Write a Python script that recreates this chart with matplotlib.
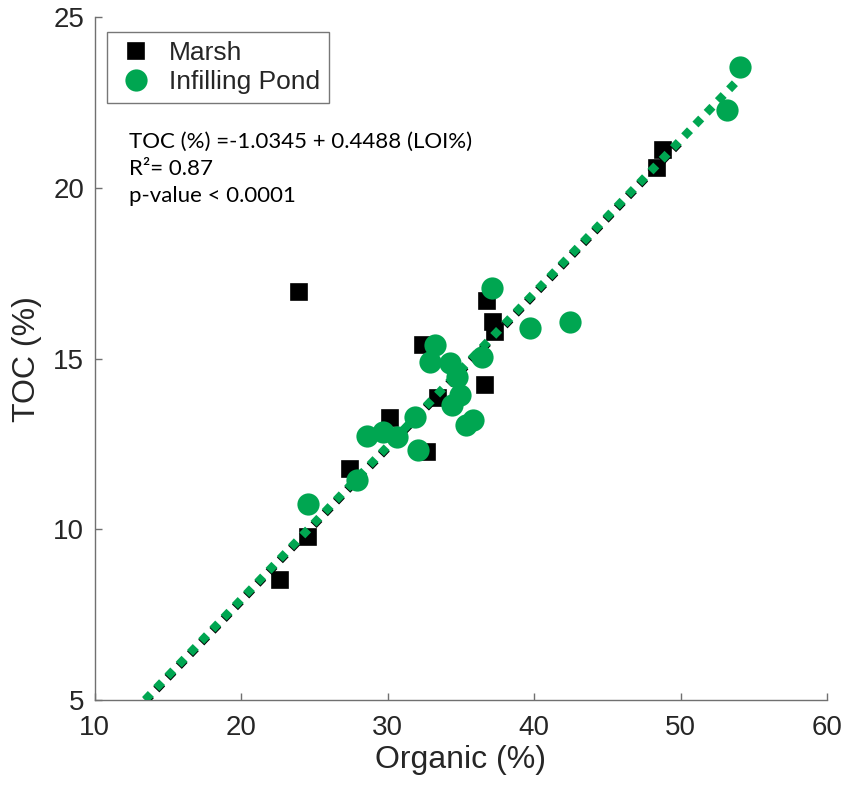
import matplotlib
matplotlib.use("Agg")
import matplotlib.pyplot as plt
import numpy as np

# Sample measurements: loss-on-ignition organic content vs total organic carbon
marsh_organic = [22.66, 24.57, 23.96, 27.44, 30.17, 32.70, 32.39, 33.45, 36.66,
                 36.77, 37.20, 37.34, 48.38, 48.83]
marsh_toc = [8.52, 9.78, 16.95, 11.77, 13.26, 12.28, 15.39, 13.85, 14.23,
             16.69, 16.08, 15.78, 20.58, 21.11]

pond_organic = [24.57, 27.90, 28.58, 29.71, 30.63, 31.88, 32.10, 33.24, 32.90,
                34.26, 34.72, 34.95, 34.38, 35.34, 35.86, 36.43, 37.11, 39.73,
                42.46, 53.15, 54.06]
pond_toc = [10.74, 11.45, 12.74, 12.86, 12.71, 13.30, 12.32, 15.40, 14.91,
            14.86, 14.47, 13.94, 13.64, 13.06, 13.20, 15.06, 17.06, 15.89,
            16.08, 22.29, 23.56]

# Regression lines (intercept, slope) and their x-ranges
fit_all = (-1.0345, 0.4488)
fit_all_range = (13.45, 54.0)
fit_marsh = (-1.075, 0.4488)
fit_marsh_range = (13.5, 50.0)

legend_labels = ["Marsh", "Infilling Pond"]
stats_lines = ["TOC (%) =-1.0345 + 0.4488 (LOI%)", "R\u00b2= 0.87", "p-value < 0.0001"]

x_ticks = [10, 20, 30, 40, 50, 60]
y_ticks = [5, 10, 15, 20, 25]

GREEN = "#00a651"
AXCOL = "#707070"
TXTCOL = "#262626"
SANS = ["Liberation Sans", "DejaVu Sans"]

fig = plt.figure(figsize=(8.5, 7.88), dpi=100)
ax = fig.add_axes([0.1112, 0.1117, 0.8618, 0.8662])

sq, = ax.plot(marsh_organic, marsh_toc, linestyle="none", marker="s", markersize=12,
              color="black", markeredgecolor="black", markeredgewidth=1.2, zorder=2,
              label=legend_labels[0])

xs = np.array(fit_marsh_range)
ax.plot(xs, fit_marsh[0] + fit_marsh[1] * xs, color="black", linewidth=6,
        linestyle=(0.12, (1, 0.95)), dash_capstyle="butt", zorder=3)
xs = np.array(fit_all_range)
ax.plot(xs, fit_all[0] + fit_all[1] * xs, color=GREEN, linewidth=6,
        linestyle=(0, (1, 0.95)), dash_capstyle="butt", zorder=4)

ci, = ax.plot(pond_organic, pond_toc, linestyle="none", marker="o", markersize=16,
              color=GREEN, markeredgewidth=0, zorder=5, label=legend_labels[1])

ax.set_xlim(10, 60)
ax.set_ylim(5, 25)
ax.set_xticks(x_ticks)
ax.set_yticks(y_ticks)
ax.set_xticklabels([str(v) for v in x_ticks], family=SANS, fontsize=20, color=TXTCOL)
ax.set_yticklabels([str(v) for v in y_ticks], family=SANS, fontsize=20, color=TXTCOL)
ax.tick_params(direction="in", length=5, width=1, color=AXCOL)
ax.tick_params(axis="x", pad=11)
ax.tick_params(axis="y", pad=7.5)
for side in ("top", "right"):
    ax.spines[side].set_visible(False)
for side in ("left", "bottom"):
    ax.spines[side].set_color(AXCOL)
    ax.spines[side].set_linewidth(1)

ax.set_xlabel("Organic (%)", family=SANS, fontsize=23, color=TXTCOL, labelpad=3)
ax.set_ylabel("TOC (%)", family=SANS, fontsize=23, color=TXTCOL, labelpad=8)

leg = ax.legend(handles=[sq, ci], loc="upper left", bbox_to_anchor=(0.017, 0.979),
                borderaxespad=0, prop={"family": SANS, "size": 19},
                fancybox=False, frameon=True, handlelength=1.5,
                handletextpad=0.5, borderpad=0.35, labelspacing=0.2,
                markerscale=1.0)
leg.get_frame().set_edgecolor("#555555")
leg.get_frame().set_linewidth(1)
for t in leg.get_texts():
    t.set_color(TXTCOL)

# Regression statistics, one text per line
baselines_px = [148.3, 175.3, 201.7]
for line, ypx in zip(stats_lines, baselines_px):
    ax.text(0.047, (700 - ypx) / 682.6, line, transform=ax.transAxes,
            family=["Lato", "DejaVu Sans"], fontsize=16, color="black",
            ha="left", va="baseline")

fig.savefig("out.png", dpi=100, facecolor="white")
